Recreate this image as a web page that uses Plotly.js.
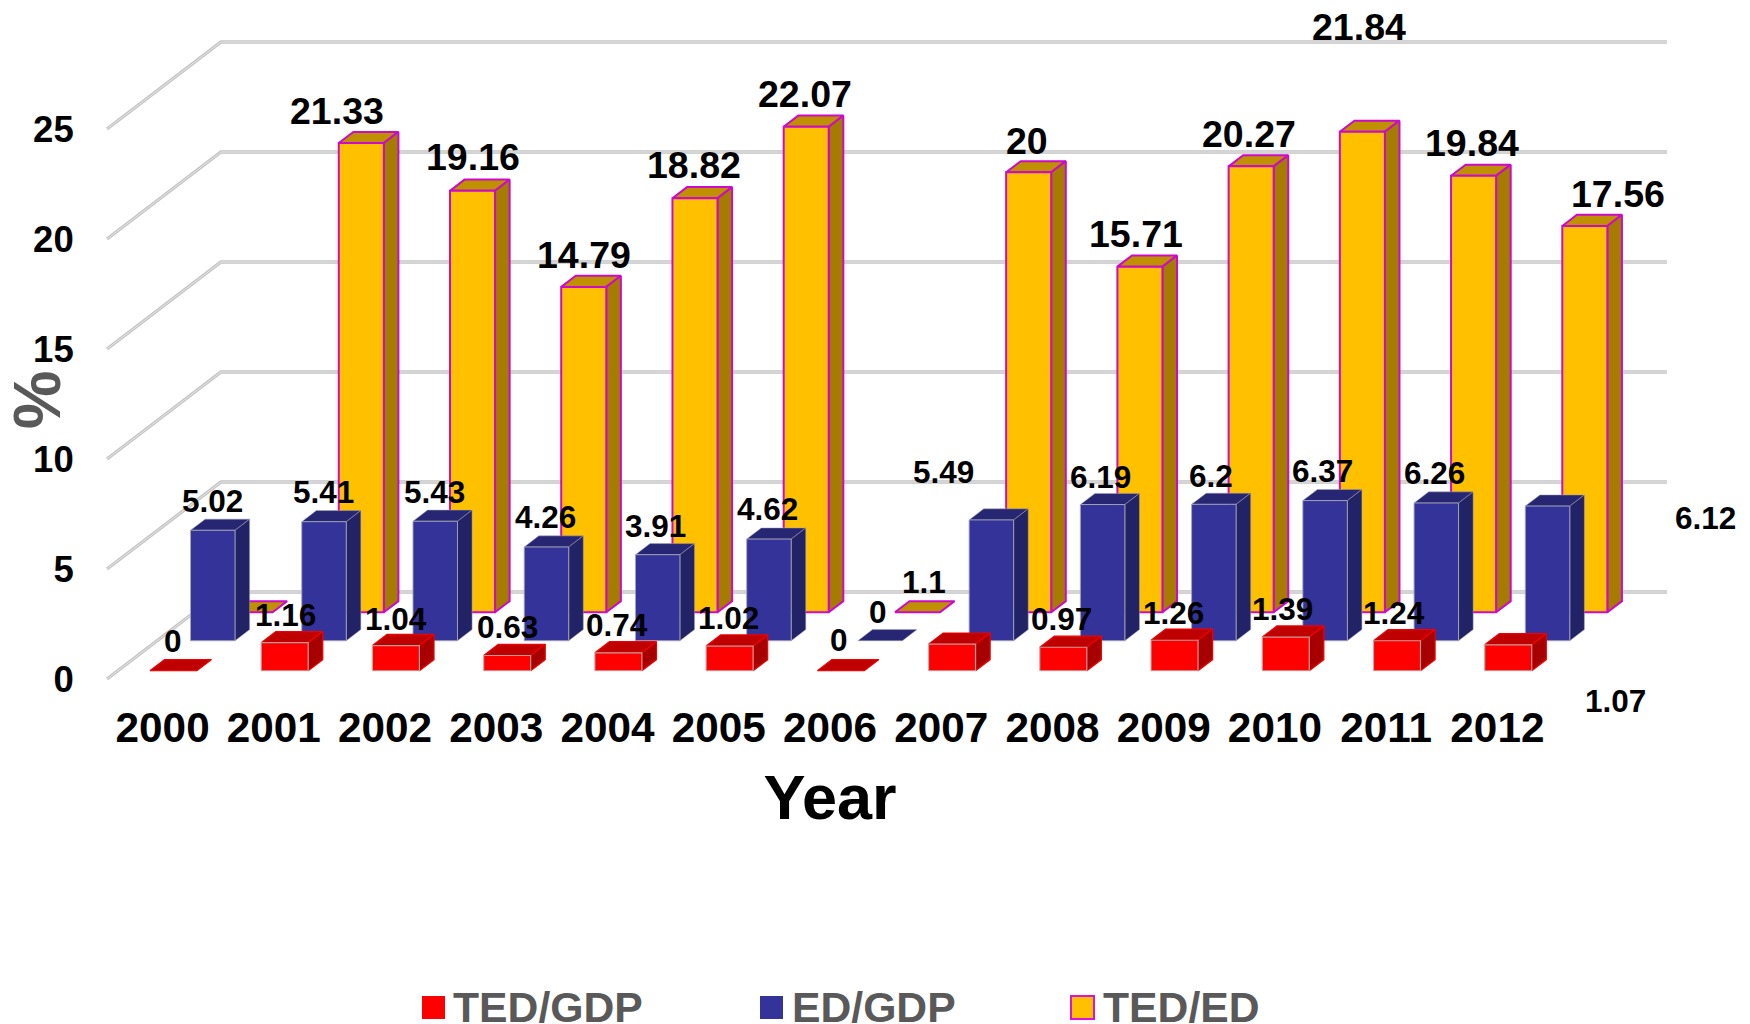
<!DOCTYPE html>
<html>
<head>
<meta charset="utf-8">
<script src="https://cdn.plot.ly/plotly-3.0.1.min.js"></script>
<style>html,body{margin:0;padding:0;background:#fff}#chart{width:1750px;height:1024px}</style>
</head>
<body>
<div id="chart"></div>
<script>
// ---- data ----
const years = ['2000','2001','2002','2003','2004','2005','2006','2007','2008','2009','2010','2011','2012'];
const tedGdp = [0,1.16,1.04,0.63,0.74,1.02,0,1.1,0.97,1.26,1.39,1.24,1.07];
const edGdp  = [5.02,5.41,5.43,4.26,3.91,4.62,0,5.49,6.19,6.2,6.37,6.26,6.12];
const tedEd  = [0,21.33,19.16,14.79,18.82,22.07,0,20,15.71,20.27,21.84,19.84,17.56];
const gridLevels = [0,5,10,15,20,25];
const seriesNames = ['TED/GDP','ED/GDP','TED/ED'];

// ---- label nudges (px) relative to the top of each bar ----
const tedGdpDx = [0,1,0,0,-1,-1,-2,-28,-2,-1,-3,-3,107];
const tedGdpDy = [-30,-30,-29,-30,-29,-30,-31,-65,-30,-30,-31,-30,54];
const edGdpDx  = [0,-1,-1,-1,-2,-1,-2,-48,-2,-3,-3,-2,158];
const edGdpDy  = [-29,-30,-29,-30,-29,-30,-29,-48,-28,-28,-30,-30,12];
const tedEdDx  = [null,-24,0,0,-1,-1,null,-2,-4,-2,-3,-2,33];
const tedEdDy  = [null,-32,-34,-32,-33,-33,null,-31,-33,-32,-105,-33,-32];

// ---- oblique projection: data space (category, value, depth 0..1) ----
const W = 1750, H = 1024;
const L = 107, R = 1553, T = 107, B = 693;      // box of the visible axes, px
const Y0 = 679;                                 // px of value 0 on the front edge
const pxX = (R - L) / years.length, pxY = 22;
const depthX = 114 / pxX, depthY = 87 / pxY;
const px = (c, d) => c + d * depthX;
const py = (v, d) => v + d * depthY;
const barDepth = 0.128;

function poly(xs, ys, pts) {
  pts.concat([pts[0]]).forEach(p => { xs.push(px(p[0], p[2])); ys.push(py(p[1], p[2])); });
  xs.push(null); ys.push(null);
}
function faces(values, d0, width, near) {
  const f = {front:{x:[],y:[]}, side:{x:[],y:[]}, top:{x:[],y:[]}};
  values.forEach((val, i) => {
    const v = val * near;   // the row nearest the viewer is drawn slightly larger
    const a = i + 0.5 - width/2, b = i + 0.5 + width/2, d1 = d0 + barDepth;
    poly(f.top.x, f.top.y, [[a,v,d0],[b,v,d0],[b,v,d1],[a,v,d1]]);
    if (v > 0) {
      poly(f.side.x, f.side.y, [[b,0,d0],[b,v,d0],[b,v,d1],[b,0,d1]]);
      poly(f.front.x, f.front.y, [[a,0,d0],[b,0,d0],[b,v,d0],[a,v,d0]]);
    }
  });
  return f;
}
const styles = [
  {name:seriesNames[0], vals:tedGdp, d:0.095, w:0.4225, near:1.1, front:'#FF0000', top:'#BF0000', side:'#A60000',
   lf:'rgba(190,170,170,0.9)', lo:'#F00000', lw:1.2, dx:tedGdpDx, dy:tedGdpDy, fs:31.5},
  {name:seriesNames[1], vals:edGdp, d:0.44, w:0.40, near:1, front:'#333399', top:'#262673', side:'#222266',
   lf:'rgba(165,165,185,0.9)', lo:'rgba(165,165,185,0.5)', lw:1, dx:edGdpDx, dy:edGdpDy, fs:31.5},
  {name:seriesNames[2], vals:tedEd, d:0.767, w:0.405, near:1, front:'#FFC000', top:'#BF9000', side:'#A67C00',
   lf:'#CC0ACC', lo:'#CC0ACC', lw:2, dx:tedEdDx, dy:tedEdDy, fs:37.5}
];

const traces = [];
// an empty trace keeps the visible axes (ticks and titles) alive
traces.push({type:'scatter', mode:'none', x:[0], y:[0], xaxis:'x', yaxis:'y', showlegend:false, hoverinfo:'skip'});
// gridlines: darker edge with a lighter core
gridLevels.forEach(v => {
  [['#C4C4C4',3.4],['#E6E6E6',1]].forEach(([c,w]) => {
    traces.push({type:'scatter', mode:'lines', hoverinfo:'skip', showlegend:false, xaxis:'x2', yaxis:'y2',
      x:[px(0,0), px(0,1), px(years.length,1)], y:[py(v,0), py(v,1), py(v,1)],
      line:{color:c, width:w, simplify:false}});
  });
});
// bars: back series first
[2,1,0].forEach(k => {
  const s = styles[k], f = faces(s.vals, s.d, s.w, s.near);
  [['top',s.top,s.lo],['side',s.side,s.lo],['front',s.front,s.lf]].forEach(([n,c,l]) => {
    traces.push({type:'scatter', mode:'lines', fill:'toself', fillcolor:c, xaxis:'x2', yaxis:'y2',
      name:s.name+' '+n, showlegend:false, hoverinfo:'skip', connectgaps:false,
      x:f[n].x, y:f[n].y, line:{color:l, width:s.lw, simplify:false}});
  });
});

// data labels
const font = 'Liberation Sans, Arial, sans-serif';
const annotations = [];
styles.forEach(s => {
  s.vals.forEach((v, i) => {
    if (s.dx[i] === null) return;
    annotations.push({xref:'x2', yref:'y2', x:px(i+0.5, s.d), y:py(v, s.d), text:String(v), showarrow:false,
      xanchor:'center', yanchor:'middle', xshift:s.dx[i], yshift:-s.dy[i],
      font:{family:font, size:s.fs, color:'#000', weight:700}});
  });
});

// legend
const legendSwatchX = [422, 760, 1071];
const legendTextX = [451, 790, 1101];
const shapes = [];
styles.forEach((s, k) => {
  shapes.push({type:'rect', xref:'paper', yref:'paper', layer:'above',
    x0:legendSwatchX[k]/W, x1:(legendSwatchX[k]+23)/W,
    y0:(H-1019)/H, y1:(H-996)/H,
    fillcolor:s.front, line:{color:k===2?'#DD10DD':s.front, width:k===2?2:0}});
  annotations.push({xref:'paper', yref:'paper', x:legendTextX[k]/W, y:(H-1007)/H,
    text:s.name, showarrow:false, xanchor:'left', yanchor:'middle',
    font:{family:font, size:42.7, color:'#595959', weight:700}});
});

const layout = {
  width:W, height:H, showlegend:false,
  paper_bgcolor:'#fff', plot_bgcolor:'rgba(0,0,0,0)',
  margin:{l:0, r:0, t:0, b:0, pad:0, autoexpand:false},
  font:{family:font, color:'#000'},
  // visible axes: ticks and titles along the front edge
  xaxis:{domain:[L/W, R/W], anchor:'y', range:[0, years.length], tickmode:'array', fixedrange:true,
    tickvals:years.map((_, i) => i+0.5), ticktext:years,
    showgrid:false, zeroline:false, showline:false, ticks:'', ticklabelstandoff:6,
    tickfont:{family:font, size:42.3, color:'#000', weight:700},
    title:{text:'Year', standoff:24, font:{family:font, size:63, color:'#000', weight:700}}},
  yaxis:{domain:[(H-B)/H, (H-T)/H], anchor:'x', range:[(Y0-B)/pxY, (Y0-T)/pxY], tickmode:'array',
    tickvals:gridLevels, ticktext:gridLevels.map(String), fixedrange:true,
    showgrid:false, zeroline:false, showline:false, ticks:'outside', ticklen:25, tickcolor:'rgba(0,0,0,0)',
    tickfont:{family:font, size:36.5, color:'#000', weight:700},
    title:{text:'%', standoff:11, font:{family:font, size:66, color:'#595959', weight:700}}},
  // hidden full-page axes on the same scale: the marks live here and can reach past the front edge
  xaxis2:{domain:[0,1], anchor:'y2', visible:false, fixedrange:true, range:[-L/pxX, (W-L)/pxX]},
  yaxis2:{domain:[0,1], anchor:'x2', visible:false, fixedrange:true, range:[(Y0-H)/pxY, Y0/pxY]},
  shapes:shapes, annotations:annotations
};
Plotly.newPlot('chart', traces, layout, {displayModeBar:false, responsive:false});
</script>
</body>
</html>
